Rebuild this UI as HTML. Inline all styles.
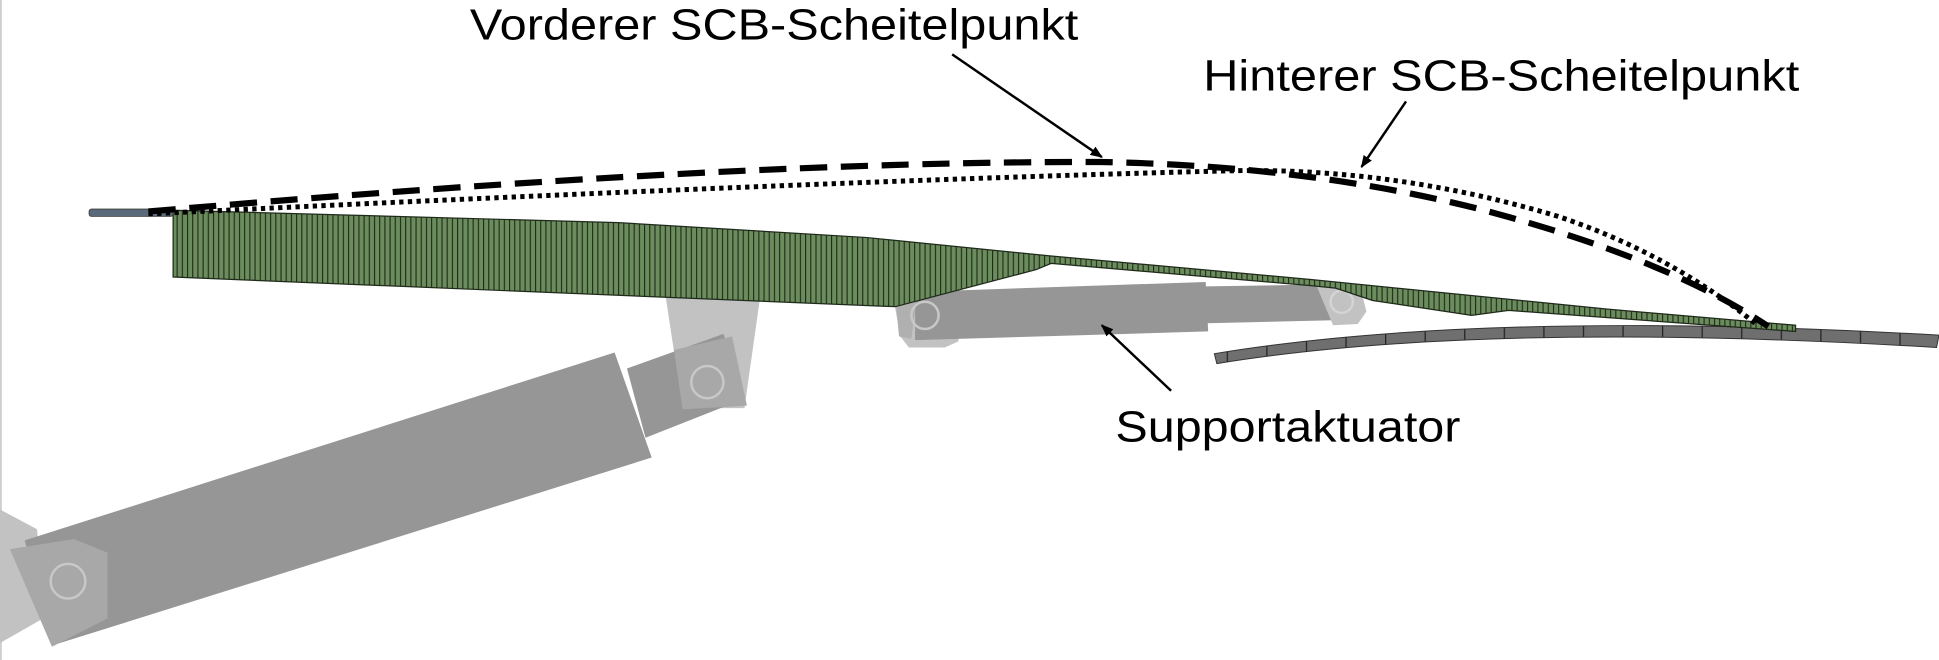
<!DOCTYPE html>
<html><head><meta charset="utf-8"><style>
html,body{margin:0;padding:0;background:#fff;}
svg{display:block;}
text{font-family:"Liberation Sans",sans-serif;fill:#000;}
</style></head><body>
<svg width="1939" height="660" viewBox="0 0 1568 533.7" preserveAspectRatio="none" xmlns="http://www.w3.org/2000/svg">
<defs>
<pattern id="h" width="4.2" height="10" patternUnits="userSpaceOnUse">
<rect width="4.2" height="10" fill="#6b8c5c"/>
<rect x="0" width="0.9" height="10" fill="#1f2a1a"/>
</pattern>
<pattern id="s" width="32" height="20" patternUnits="userSpaceOnUse">
<rect width="32" height="20" fill="#6f6f6f"/>
<rect x="0" width="1" height="20" fill="#222"/>
</pattern>
<marker id="a" markerWidth="10" markerHeight="10" refX="9" refY="5" orient="auto" markerUnits="userSpaceOnUse">
<path d="M0,1 L10,5 L0,9 z" fill="#000"/>
</marker>
</defs>
<rect x="0" y="0" width="1.5" height="534" fill="#cfcfcf"/>

<!-- big lower actuator -->
<polygon points="0,412 30,428 35,500 0,520" fill="#c2c2c2"/>
<polygon points="538,238 615,238 602,330 552,330" fill="#c2c2c2"/>
<polygon points="507,298 585,270 603,322 522,354" fill="#969696"/>
<polygon points="545,283 592,272 604,328 552,331" fill="#a8a8a8"/>
<circle cx="572" cy="309" r="13" fill="none" stroke="#c8c8c8" stroke-width="2"/>
<polygon points="20,437 497,285 527,370 42,522" fill="#969696"/>
<polygon points="8,444 60,436 87,447 87,500 42,523" fill="#a8a8a8"/>
<circle cx="55" cy="470" r="14" fill="none" stroke="#c8c8c8" stroke-width="2"/>

<!-- support actuator -->
<polygon points="722,238 778,236 775,276 764,281 735,281 728,272" fill="#c2c2c2"/>
<polygon points="950,232 1075,230 1078,259 950,262" fill="#969696"/>
<polygon points="1065,232 1100,232 1105,252 1098,262 1078,263" fill="#c2c2c2"/>
<circle cx="1085" cy="244" r="9" fill="none" stroke="#d4d4d4" stroke-width="2"/>
<polygon points="740,236 975,228 977,268 740,275" fill="#969696"/>
<polygon points="724,240 742,236 737,274 727,272" fill="#b0b0b0"/>
<circle cx="748" cy="255" r="11" fill="none" stroke="#c8c8c8" stroke-width="2"/>

<!-- skin -->
<path d="M982,286 Q1200,250 1568,271 L1566,281 Q1200,259 984,294 Z" fill="url(#s)" stroke="#333" stroke-width="0.8"/>

<!-- green structure -->
<polygon points="140,170 500,180 700,192 850,207 1060,226 1300,250 1452,263 1452,268 1220,251 1190,255 1110,243 1080,233 1060,231 850,213 838,218 724,248 140,224" fill="url(#h)" stroke="#1f2a1a" stroke-width="1"/>
<rect x="72" y="169" width="68" height="6" rx="2" fill="#5a6a7a" stroke="#333" stroke-width="0.6"/>

<!-- contours -->
<path d="M120,171 Q600,130 890,131 Q1060,134 1200,170 Q1350,210 1430,264" fill="none" stroke="#000" stroke-width="5" stroke-dasharray="22,11"/>
<path d="M120,173 Q700,145 1000,138 Q1130,136 1260,175 Q1350,205 1420,262" fill="none" stroke="#000" stroke-width="4" stroke-dasharray="3.5,3.5"/>

<!-- labels -->
<text x="380" y="32" font-size="35" textLength="492" lengthAdjust="spacingAndGlyphs">Vorderer SCB-Scheitelpunkt</text>
<text x="973" y="73" font-size="35" textLength="482" lengthAdjust="spacingAndGlyphs">Hinterer SCB-Scheitelpunkt</text>
<text x="902" y="357" font-size="35" textLength="279" lengthAdjust="spacingAndGlyphs">Supportaktuator</text>
<line x1="770" y1="44" x2="891" y2="127" stroke="#000" stroke-width="2" marker-end="url(#a)"/>
<line x1="1137" y1="82" x2="1101" y2="135" stroke="#000" stroke-width="2" marker-end="url(#a)"/>
<line x1="947" y1="316" x2="891" y2="263" stroke="#000" stroke-width="2" marker-end="url(#a)"/>
</svg>
</body></html>
